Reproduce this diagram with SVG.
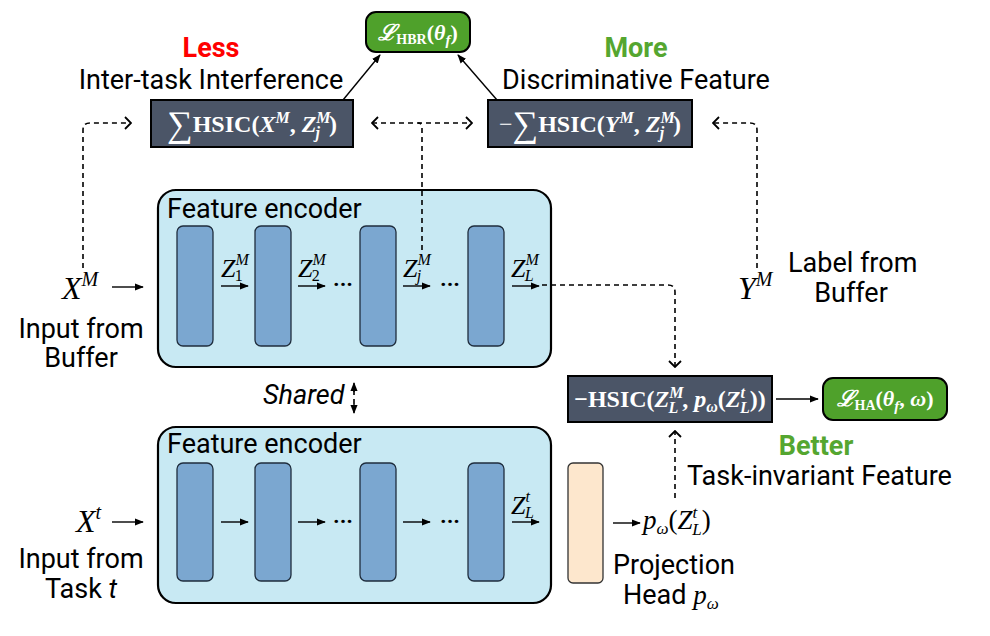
<svg xmlns="http://www.w3.org/2000/svg" width="990" height="636" viewBox="0 0 990 636">
<defs>
<style>
.dash{fill:none;stroke:#000;stroke-width:1.6;stroke-dasharray:5 4}
.solid{fill:none;stroke:#000;stroke-width:1.4}
.enc{fill:#c8e9f3;stroke:#000;stroke-width:2.2}
.blk{fill:#7ba7d0;stroke:#1f2d3d;stroke-width:1.3}
.hsic{fill:#4b5567;stroke:#000;stroke-width:2}
.loss{fill:#4fa12b;stroke:#000;stroke-width:2}
.lbl{font-family:Roboto,"Liberation Sans",sans-serif;font-size:27px;fill:#000}
.math{font-family:"Liberation Serif","DejaVu Serif",serif;font-style:italic;fill:#000}
.mb{font-family:"Liberation Serif","DejaVu Serif",serif;font-weight:bold;fill:#fff;font-size:24px}
.dots{font-family:Roboto,"Liberation Sans",sans-serif;font-weight:bold;font-size:22px}
</style>
<marker id="tri" viewBox="0 0 10 10" refX="9" refY="5" markerWidth="9" markerHeight="9" orient="auto-start-reverse" markerUnits="userSpaceOnUse">
<path d="M0,1 L10,5 L0,9 Z" fill="#000"/>
</marker>
<marker id="chev" viewBox="0 0 8 14" refX="7" refY="7" markerWidth="8" markerHeight="14" orient="auto-start-reverse" markerUnits="userSpaceOnUse">
<path d="M1,1 L7,7 L1,13" fill="none" stroke="#000" stroke-width="1.8" stroke-dasharray="none"/>
</marker>
</defs>
<rect width="990" height="636" fill="#fff"/>

<g id="loss-hbr">
<rect class="loss" x="366" y="12" width="104" height="40" rx="10"/>
<text x="418" y="40" text-anchor="middle" font-family="'Liberation Serif','DejaVu Serif',serif" font-weight="bold" fill="#fff" font-size="22"><tspan font-family="'DejaVu Serif',serif" font-style="italic">ℒ</tspan><tspan font-size="14" dy="4">HBR</tspan><tspan dy="-4">(</tspan><tspan font-style="italic">θ</tspan><tspan font-style="italic" font-size="15" dy="5">f</tspan><tspan dy="-5">)</tspan></text>
</g>

<g id="label-less">
<text class="lbl" x="211" y="57" text-anchor="middle" font-weight="bold" style="fill:#ff0000">Less</text>
<text class="lbl" x="211" y="89" text-anchor="middle">Inter-task Interference</text>
</g>
<g id="label-more">
<text class="lbl" x="636" y="57" text-anchor="middle" font-weight="bold" style="fill:#55a630">More</text>
<text class="lbl" x="636" y="89" text-anchor="middle">Discriminative Feature</text>
</g>

<g id="hsic-x">
<rect class="hsic" x="151" y="100" width="202" height="47"/>
<text class="mb" x="252" y="132" text-anchor="middle"><tspan font-size="36" font-weight="normal" dy="4">∑</tspan><tspan dy="-4">HSIC(</tspan><tspan font-style="italic">X</tspan><tspan font-size="16" font-style="italic" dy="-9">M</tspan><tspan dy="9">, </tspan><tspan font-style="italic">Z</tspan><tspan font-size="16" font-style="italic" dy="-9">M</tspan><tspan font-size="16" font-style="italic" dx="-15" dy="15">j</tspan><tspan dx="9" dy="-6">)</tspan></text>
</g>

<g id="hsic-y">
<rect class="hsic" x="488" y="100" width="204" height="47"/>
<text class="mb" x="590" y="132" text-anchor="middle"><tspan font-weight="normal">−</tspan><tspan font-size="36" font-weight="normal" dy="4">∑</tspan><tspan dy="-4">HSIC(</tspan><tspan font-style="italic">Y</tspan><tspan font-size="16" font-style="italic" dy="-9">M</tspan><tspan dy="9">, </tspan><tspan font-style="italic">Z</tspan><tspan font-size="16" font-style="italic" dy="-9">M</tspan><tspan font-size="16" font-style="italic" dx="-15" dy="15">j</tspan><tspan dx="9" dy="-6">)</tspan></text>
</g>

<g id="encoder-top">
<rect class="enc" x="158" y="190" width="393" height="177" rx="18"/>
<text class="lbl" x="167" y="218">Feature encoder</text>
<rect class="blk" x="177" y="226" width="36" height="120" rx="6"/>
<rect class="blk" x="255" y="226" width="36" height="120" rx="6"/>
<rect class="blk" x="360" y="226" width="36" height="120" rx="6"/>
<rect class="blk" x="468" y="226" width="36" height="120" rx="6"/>
<text class="math" x="221" y="277" font-size="26">Z<tspan font-size="16" dy="-12">M</tspan><tspan font-size="16" font-style="normal" dx="-14" dy="16">1</tspan></text>
<text class="math" x="298" y="277" font-size="26">Z<tspan font-size="16" dy="-12">M</tspan><tspan font-size="16" font-style="normal" dx="-14" dy="16">2</tspan></text>
<text class="math" x="403" y="277" font-size="26">Z<tspan font-size="16" dy="-12">M</tspan><tspan font-size="16" dx="-14" dy="16">j</tspan></text>
<text class="math" x="511" y="277" font-size="26">Z<tspan font-size="16" dy="-12">M</tspan><tspan font-size="16" dx="-14" dy="16">L</tspan></text>
<text class="dots" x="343" y="292" text-anchor="middle">···</text>
<text class="dots" x="450" y="292" text-anchor="middle">···</text>
</g>

<g id="input-buffer">
<text class="math" x="62" y="299" font-size="32">X<tspan font-size="20" dy="-13">M</tspan></text>
<text class="lbl" x="81" y="338" text-anchor="middle">Input from</text>
<text class="lbl" x="81" y="367" text-anchor="middle">Buffer</text>
</g>

<g id="label-buffer">
<text class="math" x="738" y="299" font-size="32">Y<tspan font-size="20" dy="-13">M</tspan></text>
<text class="lbl" x="788" y="272">Label from</text>
<text class="lbl" x="851" y="302" text-anchor="middle">Buffer</text>
</g>

<g id="shared">
<text class="lbl" x="263" y="404" font-style="italic" font-size="24">Shared</text>
</g>

<g id="encoder-bottom">
<rect class="enc" x="158" y="427" width="393" height="176" rx="18"/>
<text class="lbl" x="167" y="453">Feature encoder</text>
<rect class="blk" x="177" y="463" width="36" height="118" rx="6"/>
<rect class="blk" x="255" y="463" width="36" height="118" rx="6"/>
<rect class="blk" x="360" y="463" width="36" height="118" rx="6"/>
<rect class="blk" x="468" y="463" width="36" height="118" rx="6"/>
<text class="math" x="511" y="514" font-size="26">Z<tspan font-size="16" dy="-12">t</tspan><tspan font-size="16" dx="-5" dy="16">L</tspan></text>
<text class="dots" x="343" y="529" text-anchor="middle">···</text>
<text class="dots" x="450" y="529" text-anchor="middle">···</text>
</g>

<g id="input-task">
<text class="math" x="76" y="532" font-size="32">X<tspan font-size="20" dy="-13">t</tspan></text>
<text class="lbl" x="81" y="568" text-anchor="middle">Input from</text>
<text class="lbl" x="81" y="598" text-anchor="middle">Task <tspan font-style="italic">t</tspan></text>
</g>

<g id="projection-head">
<rect x="568" y="463" width="35" height="120" rx="5" fill="#fde7cd" stroke="#333" stroke-width="1.3"/>
<text class="math" x="643" y="529" font-size="27">p<tspan font-size="17" dy="5">ω</tspan><tspan font-style="normal" dy="-5">(</tspan>Z<tspan font-size="17" dy="-11">t</tspan><tspan font-size="17" dx="-5" dy="17">L</tspan><tspan font-style="normal" dy="-6">)</tspan></text>
<text class="lbl" x="613" y="574">Projection</text>
<text class="lbl" x="623" y="604">Head <tspan font-family="'Liberation Serif',serif" font-style="italic">p<tspan font-size="17" dy="5">ω</tspan></tspan></text>
</g>

<g id="hsic-align">
<rect class="hsic" x="568" y="376" width="204" height="46"/>
<text class="mb" x="670" y="407" text-anchor="middle"><tspan>−HSIC(</tspan><tspan font-style="italic">Z</tspan><tspan font-size="16" font-style="italic" dy="-9">M</tspan><tspan font-size="16" font-style="italic" dx="-15" dy="15">L</tspan><tspan dx="4" dy="-6">, </tspan><tspan font-style="italic">p</tspan><tspan font-size="16" font-style="italic" dy="5">ω</tspan><tspan dy="-5">(</tspan><tspan font-style="italic">Z</tspan><tspan font-size="16" font-style="italic" dy="-9">t</tspan><tspan font-size="16" font-style="italic" dx="-5" dy="15">L</tspan><tspan dy="-6">))</tspan></text>
</g>

<g id="loss-ha">
<rect class="loss" x="823" y="378" width="124" height="42" rx="10"/>
<text x="885" y="406" text-anchor="middle" font-family="'Liberation Serif','DejaVu Serif',serif" font-weight="bold" fill="#fff" font-size="22"><tspan font-family="'DejaVu Serif',serif" font-style="italic">ℒ</tspan><tspan font-size="14" dy="4">HA</tspan><tspan dy="-4">(</tspan><tspan font-style="italic">θ</tspan><tspan font-style="italic" font-size="15" dy="5">f</tspan><tspan dy="-5">, </tspan><tspan font-style="italic">ω</tspan>)</text>
</g>

<g id="label-better">
<text class="lbl" x="816" y="455" text-anchor="middle" font-weight="bold" style="fill:#55a630">Better</text>
<text class="lbl" x="687" y="485">Task-invariant Feature</text>
</g>

<g id="connectors">
<path class="solid" d="M343,100 L380,55" marker-end="url(#tri)"/>
<path class="solid" d="M497,100 L458,55" marker-end="url(#tri)"/>
<path class="dash" d="M372,123 H472" marker-start="url(#chev)" marker-end="url(#chev)"/>
<path class="dash" d="M422,250 V127 Q422,123 418,123"/>
<path class="dash" d="M83,268 V130 Q83,123 90,123 H131" marker-end="url(#chev)"/>
<path class="dash" d="M757,268 V130 Q757,123 750,123 H713" marker-end="url(#chev)"/>
<path class="dash" d="M542,285 H668 Q675,285 675,292 V367" marker-end="url(#chev)"/>
<path class="dash" d="M675,498 V431" marker-end="url(#chev)"/>
<path class="solid" d="M112,287 H143" marker-end="url(#tri)"/>
<path class="solid" d="M112,522 H143" marker-end="url(#tri)"/>
<path class="solid" d="M221,286 H248" marker-end="url(#tri)"/>
<path class="solid" d="M298,286 H325" marker-end="url(#tri)"/>
<path class="solid" d="M403,286 H430" marker-end="url(#tri)"/>
<path class="solid" d="M512,286 H539" marker-end="url(#tri)"/>
<path class="solid" d="M221,522 H248" marker-end="url(#tri)"/>
<path class="solid" d="M298,522 H325" marker-end="url(#tri)"/>
<path class="solid" d="M403,522 H430" marker-end="url(#tri)"/>
<path class="solid" d="M512,522 H539" marker-end="url(#tri)"/>
<path class="solid" d="M613,523 H640" marker-end="url(#tri)"/>
<path class="solid" d="M776,399 H818" marker-end="url(#tri)"/>
<path class="dash" d="M354,390 V406"/>
<path class="solid" d="M354,392 V383" marker-end="url(#tri)"/>
<path class="solid" d="M354,404 V413" marker-end="url(#tri)"/>
</g>
</svg>
